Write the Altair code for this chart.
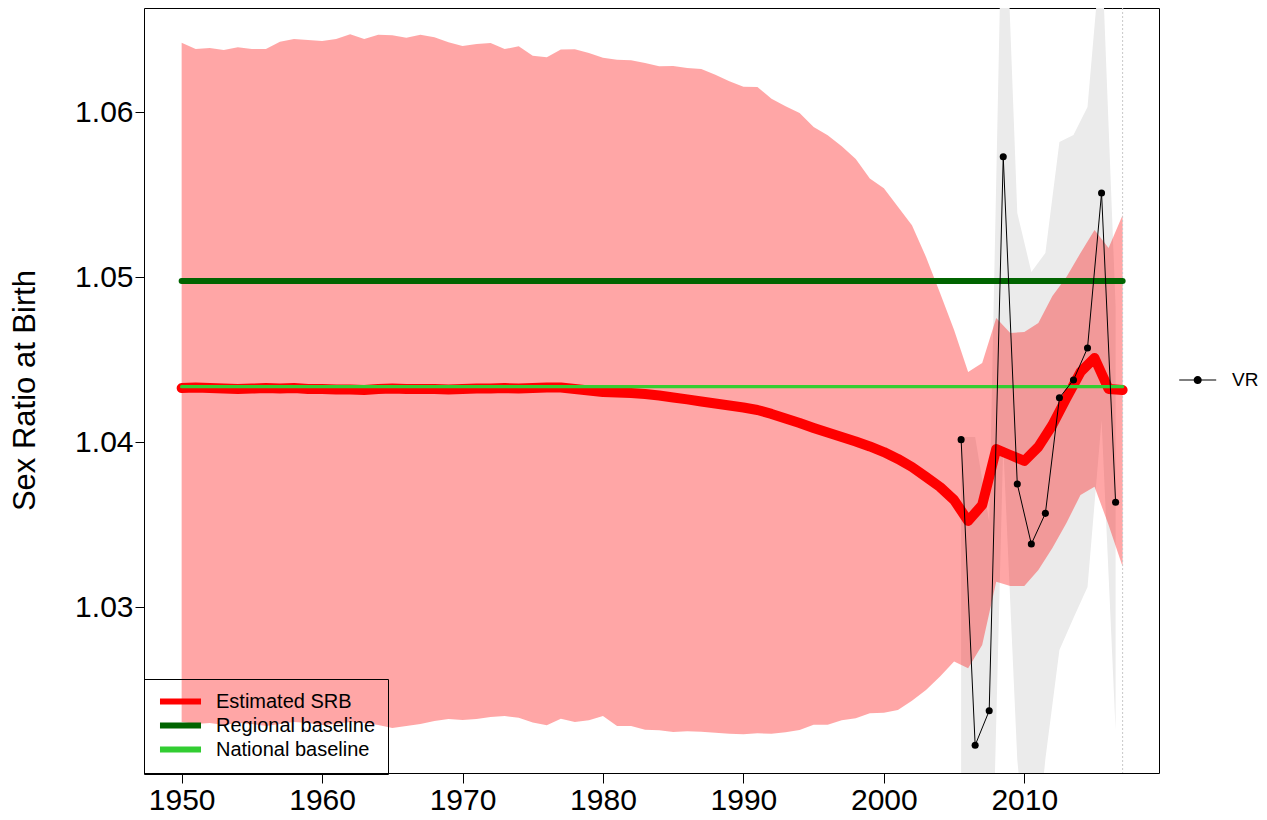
import altair as alt
import pandas as pd

# ---------------- data ----------------
years = list(range(1950, 2018))

srb_median = [
    1.04329, 1.04332, 1.04329, 1.04326, 1.04323, 1.04326, 1.04329, 1.04326, 1.04329, 1.04323,
    1.04323, 1.04320, 1.04320, 1.04317, 1.04323, 1.04326, 1.04323, 1.04323, 1.04323, 1.04320,
    1.04323, 1.04326, 1.04326, 1.04329, 1.04326, 1.04329, 1.04332, 1.04332, 1.04323, 1.04314,
    1.04305, 1.04302, 1.04299, 1.04293, 1.04284, 1.04272, 1.04260, 1.04247, 1.04235, 1.04223,
    1.04211, 1.04196, 1.04172, 1.04144, 1.04117, 1.04087, 1.04059, 1.04032, 1.04005, 1.03975,
    1.03941, 1.03899, 1.03850, 1.03790, 1.03729, 1.03650, 1.03523, 1.03620, 1.03959, 1.03923,
    1.03887, 1.03972, 1.04105, 1.04269, 1.04426, 1.04511, 1.04323, 1.04317,
]

srb_upper = [
    1.06423, 1.06385, 1.06391, 1.06379, 1.06395, 1.06385, 1.06385, 1.06429, 1.06446, 1.06440,
    1.06434, 1.06446, 1.06474, 1.06446, 1.06472, 1.06468, 1.06454, 1.06472, 1.06456, 1.06426,
    1.06403, 1.06415, 1.06421, 1.06385, 1.06401, 1.06344, 1.06335, 1.06382, 1.06384, 1.06361,
    1.06332, 1.06320, 1.06317, 1.06300, 1.06280, 1.06282, 1.06270, 1.06264, 1.06229, 1.06189,
    1.06156, 1.06155, 1.06084, 1.06038, 1.05997, 1.05912, 1.05862, 1.05795, 1.05718, 1.05599,
    1.05540, 1.05429, 1.05316, 1.05124, 1.04905, 1.04681, 1.04426, 1.04481, 1.04754, 1.04663,
    1.04669, 1.04724, 1.04887, 1.05002, 1.05148, 1.05287, 1.05178, 1.05378,
]

srb_lower = [
    1.02304, 1.02292, 1.02298, 1.02286, 1.02298, 1.02292, 1.02280, 1.02292, 1.02304, 1.02298,
    1.02286, 1.02292, 1.02304, 1.02298, 1.02286, 1.02267, 1.02280, 1.02292, 1.02310, 1.02322,
    1.02316, 1.02322, 1.02334, 1.02340, 1.02330, 1.02300, 1.02284, 1.02324, 1.02304, 1.02314,
    1.02340, 1.02280, 1.02280, 1.02257, 1.02254, 1.02243, 1.02247, 1.02245, 1.02239, 1.02233,
    1.02229, 1.02235, 1.02233, 1.02241, 1.02255, 1.02287, 1.02287, 1.02314, 1.02326, 1.02357,
    1.02360, 1.02377, 1.02433, 1.02498, 1.02579, 1.02670, 1.02629, 1.02771, 1.03155, 1.03129,
    1.03129, 1.03226, 1.03359, 1.03511, 1.03680, 1.03731, 1.03498, 1.03246,
]

vr_years = [2005.5, 2006.5, 2007.5, 2008.5, 2009.5, 2010.5,
            2011.5, 2012.5, 2013.5, 2014.5, 2015.5, 2016.5]
vr_values = [1.04016, 1.02163, 1.02372, 1.05732, 1.03747, 1.03383,
             1.03569, 1.04270, 1.04378, 1.04572, 1.05512, 1.03636]
vr_upper = [1.04032, 1.04032, 1.03517, 1.07653, 1.05391, 1.05033,
            1.05148, 1.05821, 1.05864, 1.06033, 1.07016, 1.04821]
vr_lower = [1.01224, 1.01224, 1.00618, 1.03984, 1.02073, 1.01224,
            1.02079, 1.02740, 1.02935, 1.03123, 1.04135, 1.02255]

baseline_years = [1950, 2017]
regional_baseline = 1.04978
national_baseline = 1.04337
last_year = [2017]

series_names = ["Estimated SRB", "Regional baseline", "National baseline"]
series_colors = ["#FF0000", "#006400", "#32CD32"]

x_ticks = [1950, 1960, 1970, 1980, 1990, 2000, 2010]
y_ticks = [1.03, 1.04, 1.05, 1.06]

# ---------------- tables ----------------
srb_df = pd.DataFrame({"year": years, "value": srb_median, "lower": srb_lower,
                       "upper": srb_upper, "series": series_names[0]})
vr_df = pd.DataFrame({"year": vr_years, "value": vr_values, "lower": vr_lower,
                      "upper": vr_upper, "kind": "VR"})
reg_df = pd.DataFrame({"year": baseline_years, "value": [regional_baseline] * 2,
                       "series": series_names[1]})
nat_df = pd.DataFrame({"year": baseline_years, "value": [national_baseline] * 2,
                       "series": series_names[2]})
end_df = pd.DataFrame({"year": last_year})

FONT = "Liberation Sans"

x_scale = alt.Scale(domain=[1947.32, 2019.59], nice=False, zero=False)
y_scale = alt.Scale(domain=[1.019945, 1.066337], nice=False, zero=False)

x_axis = alt.Axis(values=x_ticks, format="d", title=None, grid=False, domain=False,
                  labelFont=FONT, labelFontSize=30, labelColor="black", labelPadding=2,
                  tickSize=10, tickColor="black", tickWidth=1, labelFlush=False)
y_axis = alt.Axis(values=y_ticks, format=".2f", title="Sex Ratio at Birth", grid=False,
                  domain=False, labelFont=FONT, labelFontSize=30, labelColor="black",
                  labelPadding=2, tickSize=9, tickColor="black", tickWidth=1,
                  titleFont=FONT, titleFontSize=31, titleFontWeight="normal",
                  titleColor="black", titleAngle=270, titleX=-119, titleY=382,
                  titleAlign="center", titleBaseline="middle", labelFlush=False)


def X():
    return alt.X("year:Q", scale=x_scale, axis=x_axis)


def Y(field):
    return alt.Y(f"{field}:Q", scale=y_scale, axis=y_axis)


# a long horizontal stroke drawn with a small nominal symbol size,
# so that the legend rows stay compact
legend_stroke = "M-2.93,0L2.93,0"

color_enc = alt.Color(
    "series:N",
    scale=alt.Scale(domain=series_names, range=series_colors),
    legend=alt.Legend(title=None, orient="none", legendX=0, legendY=671,
                      direction="vertical", strokeColor="black", padding=12.5,
                      symbolType=legend_stroke, symbolSize=196, symbolStrokeWidth=6,
                      symbolOffset=14,
                      labelFont=FONT, labelFontSize=20, labelColor="black",
                      labelOffset=25.5, rowPadding=0),
)

# filled path: a thin bar (the line) plus a dot, in the unit box [-1, 1]
vr_symbol = ("M-1,-0.03L1,-0.03L1,0.03L-1,0.03Z"
             "M0.22,0A0.22,0.22,0,1,1,-0.22,0A0.22,0.22,0,1,1,0.22,0Z")

grey_band = alt.Chart(vr_df).mark_area(color="#EBEBEB", clip=True).encode(
    x=X(), y=Y("lower"), y2="upper:Q")

pink_band = alt.Chart(srb_df).mark_area(color="#FF0000", opacity=0.35, clip=True).encode(
    x=X(), y=Y("lower"), y2="upper:Q")

end_rule = alt.Chart(end_df).mark_rule(color="#C8C8C8", strokeDash=[2, 2],
                                      strokeWidth=1).encode(x=X())

srb_line = alt.Chart(srb_df).mark_line(strokeWidth=10, strokeCap="round",
                                       strokeJoin="round").encode(
    x=X(), y=Y("value"), color=color_enc)

reg_line = alt.Chart(reg_df).mark_line(strokeWidth=6, strokeCap="round").encode(
    x=X(), y=Y("value"), color=color_enc)

nat_line = alt.Chart(nat_df).mark_line(strokeWidth=3.3, strokeCap="round").encode(
    x=X(), y=Y("value"), color=color_enc)

vr_line = alt.Chart(vr_df).mark_line(color="black", strokeWidth=1).encode(
    x=X(), y=Y("value"))

vr_points = alt.Chart(vr_df).mark_point(filled=True, color="black", size=50,
                                        shape="circle", opacity=1).encode(
    x=X(), y=Y("value"),
    opacity=alt.Opacity(
        "kind:N", scale=alt.Scale(domain=["VR"], range=[1]),
        legend=alt.Legend(title=None, orient="none", legendX=1035.2, legendY=353.5,
                          padding=0, symbolType=vr_symbol, symbolSize=1369,
                          symbolFillColor="black", symbolStrokeColor="black",
                          symbolStrokeWidth=0, labelFont=FONT, labelFontSize=19,
                          labelColor="black", labelOffset=15.8)),
)

chart = alt.layer(
    grey_band, pink_band, end_rule, srb_line, reg_line, nat_line, vr_line, vr_points
).properties(
    width=1015, height=765,
    padding={"left": 136, "top": 0, "right": 100, "bottom": 45},
    autosize=alt.AutoSizeParams(type="none"),
    background="white",
).configure_view(stroke="black", strokeWidth=1)

chart.save("out.html", embed_options={"renderer": "svg", "actions": False})
